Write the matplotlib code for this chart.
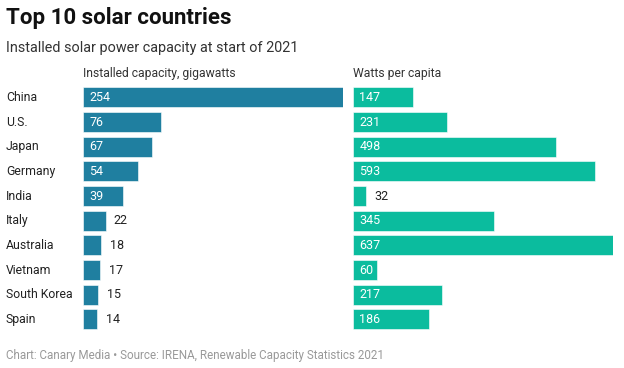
import matplotlib.pyplot as plt
from matplotlib.transforms import blended_transform_factory

plt.rcParams['font.family'] = ['Roboto', 'DejaVu Sans']

countries = ["China", "U.S.", "Japan", "Germany", "India", "Italy",
             "Australia", "Vietnam", "South Korea", "Spain"]
capacity_gw = [254, 76, 67, 54, 39, 22, 18, 17, 15, 14]
watts_per_capita = [147, 231, 498, 593, 32, 345, 637, 60, 217, 186]

W, H = 624, 368
fig = plt.figure(figsize=(W / 100, H / 100), dpi=100)

def px_axes(x0, y0, w, h):
    # pixel box (top-left origin) -> figure axes
    return fig.add_axes([x0 / W, 1 - (y0 + h) / H, w / W, h / H])

top, row_h = 85, 24.67
n = len(countries)
ax1 = px_axes(83, top, 260, row_h * n)
ax2 = px_axes(353, top, 260, row_h * n)

panels = [(ax1, capacity_gw, "#1f7fa0", "Installed capacity, gigawatts"),
          (ax2, watts_per_capita, "#0bbc9e", "Watts per capita")]

for ax, vals, color, header in panels:
    y = list(range(n))
    ax.barh(y, vals, height=0.81, color=color, edgecolor="white", linewidth=0.4)
    ax.set_xlim(0, max(vals))
    ax.set_ylim(n - 0.5, -0.5)
    ax.axis("off")
    bar_px = 260 / max(vals)
    for yi, v in zip(y, vals):
        if v * bar_px > 23:
            ax.annotate(str(v), (0, yi), xytext=(4.5, 0), textcoords="offset points",
                        va="center", ha="left", color="white", fontsize=9)
        else:
            ax.annotate(str(v), (v, yi), xytext=(6, 0), textcoords="offset points",
                        va="center", ha="left", color="#222222", fontsize=9)
    ax.text(0, -0.95, header, transform=ax.transData, fontsize=8.7,
            color="#333333", va="center", ha="left")

tr = blended_transform_factory(fig.transFigure, ax1.transData)
for i, c in enumerate(countries):
    ax1.text(6 / W, i, c, transform=tr, fontsize=8.8, color="#222222",
             va="center", ha="left")

fig.text(6 / W, 1 - 18 / H, "Top 10 solar countries", fontsize=16,
         fontweight="bold", color="#111111", va="center", ha="left")
fig.text(6 / W, 1 - 48 / H, "Installed solar power capacity at start of 2021",
         fontsize=10.4, color="#333333", va="center", ha="left")
fig.text(6 / W, 1 - 355 / H,
         "Chart: Canary Media \u2022 Source: IRENA, Renewable Capacity Statistics 2021",
         fontsize=8.4, color="#999999", va="center", ha="left")

fig.savefig("out.png", dpi=100)
